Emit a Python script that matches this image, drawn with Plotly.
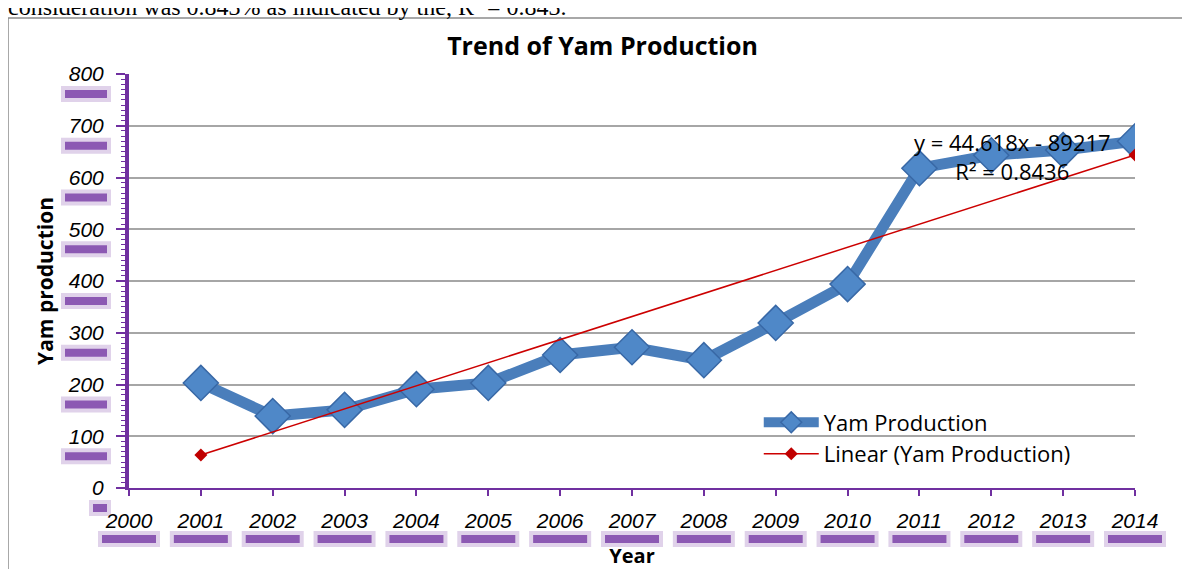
import plotly.graph_objects as go

years = [2001, 2002, 2003, 2004, 2005, 2006, 2007, 2008, 2009, 2010, 2011, 2012, 2013, 2014]
production = [203, 139, 151, 191, 203, 257, 272, 247, 319, 394, 618, 643, 653, 670]
slope = 44.618
intercept = -89217
x_ticks = list(range(2000, 2015))
y_ticks = list(range(0, 801, 100))

trend_x = [years[0], years[-1]]
trend_y = [slope * x + intercept for x in trend_x]

PURPLE = "#7030A0"
fig = go.Figure()
fig.add_trace(go.Scatter(
    x=years, y=production, mode="lines+markers", name="Yam Production",
    line=dict(color="#4A7EBB", width=11),
    marker=dict(symbol="diamond", size=27, color="#4F88C8",
                line=dict(color="#3868A6", width=1.5)),
))
fig.add_trace(go.Scatter(
    x=trend_x, y=trend_y, mode="lines+markers", name="Linear (Yam Production)",
    line=dict(color="#CC0000", width=1.5),
    marker=dict(symbol="diamond", size=10, color="#C00000"),
))

shapes = []
# decorative purple shadows under tick labels
for yr in x_ticks:
    px = (yr - 2000) / 14
    for pad, op in [(4, 0.22), (0, 0.75)]:
        shapes.append(dict(type="rect", xref="paper", yref="paper",
                           xsizemode="pixel", ysizemode="pixel",
                           xanchor=px, yanchor=0,
                           x0=-27 - pad, x1=27 + pad, y0=-55 - pad, y1=-47 + pad,
                           fillcolor=PURPLE, opacity=op, line=dict(width=0), layer="below"))
for v in y_ticks:
    py = v / 800
    w = 14 if v == 0 else 42
    for pad, op in [(4, 0.22), (0, 0.75)]:
        shapes.append(dict(type="rect", xref="paper", yref="paper",
                           xsizemode="pixel", ysizemode="pixel",
                           xanchor=0, yanchor=py,
                           x0=-22 - w - pad, x1=-22 + pad, y0=-24 - pad, y1=-16 + pad,
                           fillcolor=PURPLE, opacity=op, line=dict(width=0), layer="below"))
# outer frame
shapes.append(dict(type="rect", xref="paper", yref="paper",
                   xsizemode="pixel", ysizemode="pixel", xanchor=0, yanchor=1,
                   x0=-121, x1=1200, y0=56, y1=-700,
                   line=dict(color="#8C8C8C", width=1.5), fillcolor="rgba(0,0,0,0)"))

fig.update_layout(
    width=1182, height=561,
    margin=dict(l=121, r=55, t=66, b=81),
    paper_bgcolor="white", plot_bgcolor="white",
    title=dict(text="<b>Trend of Yam Production</b>", x=0.503, xanchor="center",
               y=0.932, yanchor="middle",
               font=dict(family="Open Sans", size=25, color="black")),
    xaxis=dict(range=[2000, 2014], tickvals=x_ticks, showgrid=False, zeroline=False,
               automargin=False,
               showline=True, linecolor=PURPLE, linewidth=2,
               ticks="outside", ticklen=6, tickcolor=PURPLE, tickwidth=1.5,
               ticklabelstandoff=7,
               tickfont=dict(family="Liberation Sans", size=21, color="black", style="italic"),
               title=dict(text="<b>Year</b>", standoff=24,
                          font=dict(family="Open Sans", size=20, color="black"))),
    yaxis=dict(range=[0, 800], tickvals=y_ticks, showgrid=True, gridcolor="#A6A6A6",
               gridwidth=2, zeroline=False, automargin=False,
               showline=True, linecolor=PURPLE, linewidth=4,
               ticks="outside", ticklen=9, tickcolor=PURPLE, tickwidth=2,
               minor=dict(dtick=10, ticks="outside", ticklen=4, tickcolor=PURPLE, tickwidth=1),
               ticklabelstandoff=8,
               tickfont=dict(family="Liberation Sans", size=21, color="black", style="italic"),
               title=dict(text="<b>Yam production</b>", standoff=9,
                          font=dict(family="Open Sans", size=21, color="black"))),
    legend=dict(x=0.626, y=0.209, xanchor="left", yanchor="top",
                bgcolor="rgba(0,0,0,0)", itemwidth=55,
                font=dict(family="Open Sans", size=22, color="black")),
    shapes=shapes,
    annotations=[
        dict(text="y = 44.618x - 89217<br>R² = 0.8436", x=2012.3, y=640,
             xref="x", yref="y", showarrow=False, align="center",
             font=dict(family="Open Sans", size=22, color="black")),
        dict(text="consideration was 0.843% as indicated by the, R² = 0.843.",
             xref="paper", yref="paper", x=0, y=1, xanchor="left", yanchor="middle",
             xshift=-123, yshift=67, showarrow=False,
             font=dict(family="Liberation Serif", size=24, color="black")),
    ],
)

fig.write_html("out.html")
